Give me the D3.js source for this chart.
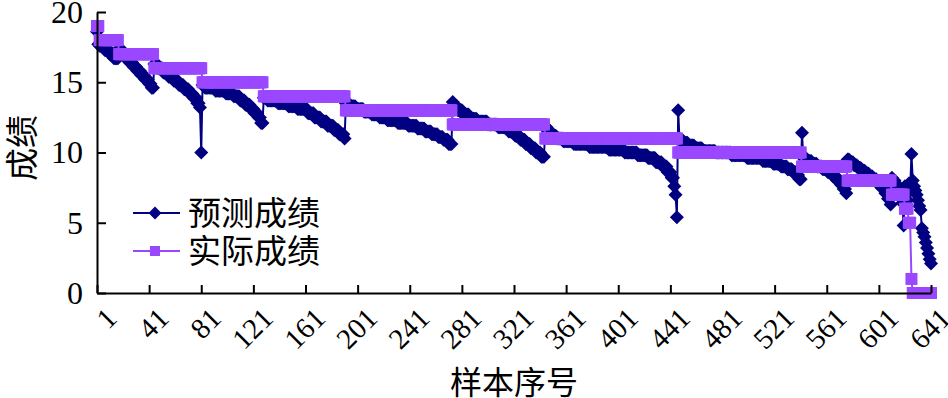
<!DOCTYPE html>
<html>
<head>
<meta charset="utf-8">
<script src="https://cdn.jsdelivr.net/npm/d3@7/dist/d3.min.js"></script>
<style>
  html, body { margin: 0; padding: 0; background: #ffffff; }
  svg { display: block; }
</style>
</head>
<body>
<svg id="chart" width="948" height="398"></svg>
<script>
// ---------------- data ----------------
const sampleCount = 641;
const xTickValues = [1, 41, 81, 121, 161, 201, 241, 281, 321, 361, 401, 441, 481, 521, 561, 601, 641];
const yTickValues = [0, 5, 10, 15, 20];

// actual score (实际成绩) levels, in sample order, and how many samples have each
const actualScores = [19, 18, 17, 16, 15, 14, 13, 12, 11, 10, 9, 8, 7, 6, 5, 1, 0];
const actualCounts = [2, 15, 27, 37, 47, 63, 82, 71, 102, 95, 35, 34, 10, 3, 2, 1, 15];

// predicted score (预测成绩) read as runs [value, number of samples] within each actual group
const predictedRuns = [
  [[18.6,1],[17.7,1]],
  [[17.6,4],[17.3,4],[17.0,3],[16.7,4]],
  [[17.4,2],[17.0,3],[16.7,3],[16.4,3],[16.1,3],[15.8,3],[15.5,3],[15.2,3],[14.9,2],[14.6,2]],
  [[16.3,3],[16.0,4],[15.7,4],[15.4,4],[15.1,4],[14.8,4],[14.5,4],[14.2,3],[13.9,3],[13.5,2],[13.2,1],[10.0,1]],
  [[14.8,2],[14.6,8],[14.4,8],[14.2,6],[14.0,5],[13.7,4],[13.4,4],[13.1,3],[12.8,3],[12.5,2],[12.1,2]],
  [[13.9,3],[13.7,8],[13.5,8],[13.3,7],[13.1,8],[12.8,5],[12.5,5],[12.2,5],[11.9,5],[11.6,4],[11.3,4],[11.0,1]],
  [[13.5,3],[13.3,5],[13.1,6],[12.9,6],[12.7,6],[12.5,6],[12.3,8],[12.1,8],[11.9,7],[11.7,6],[11.5,5],[11.3,5],[11.1,4],[10.9,4],[10.6,3]],
  [[13.6,1],[13.3,3],[13.0,4],[12.7,5],[12.4,6],[12.2,8],[12.0,8],[11.8,8],[11.5,5],[11.2,4],[10.9,4],[10.6,4],[10.3,4],[10.0,4],[9.7,3]],
  [[11.8,2],[11.5,3],[11.2,4],[11.0,5],[10.8,8],[10.6,12],[10.4,15],[10.2,12],[10.0,10],[9.8,8],[9.6,6],[9.3,5],[9.0,4],[8.6,3],[8.2,2],[7.6,1],[7.0,1],[5.4,1]],
  [[13.0,1],[10.9,3],[10.7,4],[10.5,5],[10.3,6],[10.1,10],[10.0,12],[9.8,12],[9.6,12],[9.4,8],[9.2,6],[9.0,5],[8.8,4],[8.6,3],[8.4,2],[8.1,2]],
  [[11.4,1],[9.6,3],[9.4,4],[9.2,4],[9.0,4],[8.8,4],[8.6,4],[8.3,3],[8.0,3],[7.7,2],[7.4,2],[7.1,1]],
  [[9.5,2],[9.3,3],[9.1,3],[8.9,3],[8.7,3],[8.5,3],[8.3,3],[8.1,3],[7.8,3],[7.5,3],[7.1,2],[6.7,2],[6.3,1]],
  [[8.2,1],[8.0,2],[7.7,2],[7.4,2],[7.0,1],[6.4,1],[4.8,1]],
  [[7.6,1],[7.1,1],[6.6,1]],
  [[7.8,1],[7.3,1]],
  [[9.9,1]],
  [[8.0,1],[7.6,1],[7.3,1],[7.0,1],[6.6,1],[6.2,1],[5.9,1],[4.6,1],[4.3,1],[4.0,1],[3.6,1],[3.2,1],[2.8,1],[2.4,1],[2.1,1]]
];

const seriesNames = ["预测成绩", "实际成绩"];
const xTitle = "样本序号";
const yTitle = "成绩";

// ---------------- expand runs into per-sample series ----------------
const actual = [];
actualScores.forEach((v, i) => { for (let k = 0; k < actualCounts[i]; k++) actual.push(v); });
const predicted = [];
predictedRuns.forEach(group => group.forEach(([v, c]) => { for (let k = 0; k < c; k++) predicted.push(v); }));
const actualPts = actual.map((v, i) => ({ i: i + 1, v }));
const predPts = predicted.map((v, i) => ({ i: i + 1, v }));

// ---------------- drawing ----------------
const colPred = "#000080";
const colAct = "#9a48ff";
const numFont = "'Liberation Serif', 'Times New Roman', serif";
const cjkFont = "'Noto Sans CJK SC', 'Noto Sans CJK JP', sans-serif";

const svg = d3.select("#chart");
svg.append("rect").attr("width", 948).attr("height", 398).attr("fill", "#fff");

const x = d3.scaleLinear().domain([1, sampleCount]).range([97, 931]);
const y = d3.scaleLinear().domain([0, 20]).range([293, 12]);

const line = d3.line().x(d => x(d.i)).y(d => y(d.v));
const diamond = (cx, cy, r) => `M${cx},${cy - r}L${cx + r},${cy}L${cx},${cy + r}L${cx - r},${cy}Z`;

// predicted series
const gPred = svg.append("g");
gPred.append("path").datum(predPts).attr("d", line)
  .attr("fill", "none").attr("stroke", colPred).attr("stroke-width", 2);
gPred.selectAll("path.m").data(predPts).join("path").attr("class", "m")
  .attr("d", d => diamond(x(d.i), y(d.v), 7)).attr("fill", colPred);

// actual series
const gAct = svg.append("g");
gAct.append("path").datum(actualPts).attr("d", line)
  .attr("fill", "none").attr("stroke", colAct).attr("stroke-width", 2);
const sq = 12;
gAct.selectAll("rect").data(actualPts).join("rect")
  .attr("x", d => x(d.i) - sq / 2).attr("y", d => y(d.v) - sq / 2)
  .attr("width", sq).attr("height", sq).attr("fill", colAct);

// axes
const yAxis = d3.axisLeft(y).tickValues(yTickValues).tickSizeInner(-9).tickSizeOuter(0).tickPadding(14);
const gy = svg.append("g").attr("transform", "translate(97,0)").call(yAxis);
gy.selectAll("text").attr("font-family", numFont).attr("font-size", 32).attr("fill", "#000");

const xAxis = d3.axisBottom(x).tickValues(xTickValues).tickSizeInner(-8).tickSizeOuter(0);
const gx = svg.append("g").attr("transform", "translate(0,293)").call(xAxis);
gx.selectAll("text")
  .attr("font-family", numFont).attr("font-size", 29).attr("fill", "#000")
  .attr("text-anchor", "end").attr("x", 0).attr("y", 0).attr("dy", 0)
  .attr("transform", "translate(21,27) rotate(-45)");

[gx, gy].forEach(g => {
  g.select(".domain").attr("stroke", "#000").attr("stroke-width", 2);
  g.selectAll(".tick line").attr("stroke", "#000").attr("stroke-width", 2);
});

// titles
svg.append("text").attr("x", 514).attr("y", 380)
  .attr("text-anchor", "middle").attr("dominant-baseline", "central")
  .attr("font-family", cjkFont).attr("font-size", 32).attr("fill", "#000").text(xTitle);
svg.append("text").attr("transform", "translate(20,148) rotate(-90)")
  .attr("text-anchor", "middle").attr("dominant-baseline", "central")
  .attr("font-family", cjkFont).attr("font-size", 33).attr("fill", "#000").text(yTitle);

// legend
const lg = svg.append("g");
const legendRows = [
  { name: seriesNames[0], color: colPred, ly: 213, marker: "diamond" },
  { name: seriesNames[1], color: colAct, ly: 251, marker: "square" }
];
legendRows.forEach(r => {
  lg.append("line").attr("x1", 133).attr("x2", 180).attr("y1", r.ly).attr("y2", r.ly)
    .attr("stroke", r.color).attr("stroke-width", 2);
  if (r.marker === "diamond") {
    lg.append("path").attr("d", diamond(155, r.ly, 6.5)).attr("fill", r.color);
  } else {
    lg.append("rect").attr("x", 150).attr("y", r.ly - 5).attr("width", 10).attr("height", 10).attr("fill", r.color);
  }
  lg.append("text").attr("x", 188).attr("y", r.ly - 2)
    .attr("dominant-baseline", "central")
    .attr("font-family", cjkFont).attr("font-size", 33).attr("fill", "#000").text(r.name);
});
</script>
</body>
</html>
